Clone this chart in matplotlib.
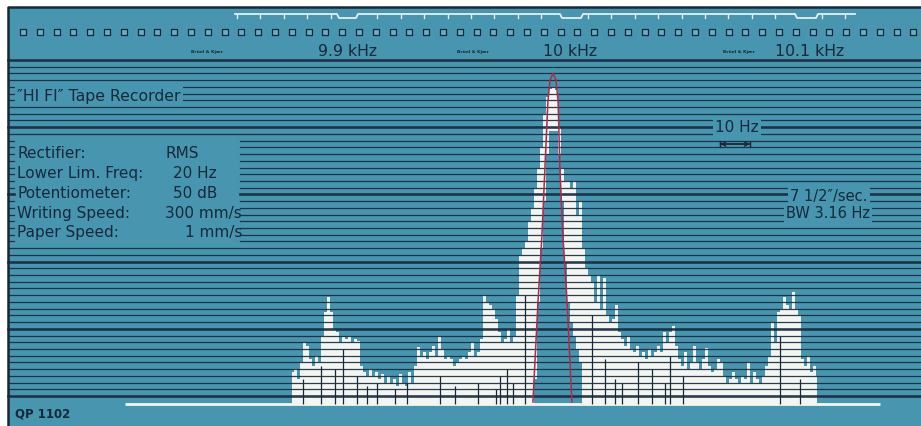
"""Narrow-band spectrum of a tape recorder tone, redrawn as a level recorder strip."""

import matplotlib
matplotlib.use("Agg")
import matplotlib.pyplot as plt
import numpy as np

W, H = 921, 427

PAPER = "#4795ae"
INK = "#17283b"
TRACE = "#f3f5f0"
RED = "#b2284c"

# --- data -------------------------------------------------------------------
F0 = 10000.0          # Hz, analysed tone
SPEC_START = -87      # Hz offset of the first 1 Hz bin
spec_db = [
    3.5, 4.0, 2.5, 5.0, 8.0, 7.5, 5.5, 4.5, 6.0, 5.0,
    9.0, 12.5, 14.7, 12.5, 10.0, 9.5, 8.0, 8.8, 8.5, 9.0,
    8.0, 8.5, 8.2, 4.5, 3.5, 3.0, 4.0, 3.0, 3.5, 2.5,
    3.2, 2.0, 3.0, 1.8, 2.5, 1.5, 3.2, 2.0, 1.5, 3.5,
    2.0, 4.5, 7.3, 6.0, 6.5, 5.5, 6.5, 7.5, 6.0, 9.0,
    7.0, 5.5, 6.0, 5.5, 4.5, 5.0, 5.5, 6.0, 5.5, 6.5,
    8.0, 6.0, 6.5, 8.5, 15.0, 14.0, 13.5, 13.0, 11.5, 9.5,
    8.0, 8.5, 10.0, 8.0, 9.0, 15.0, 21.0, 22.0, 23.0, 26.0,
    28.0, 31.0, 34.0, 37.0, 42.0, 44.5, 45.7, 46.0, 45.5, 40.0,
    34.0, 32.0, 32.0, 31.0, 32.0, 27.0, 29.0, 22.0, 19.0, 18.0,
    17.0, 14.0, 18.0, 13.0, 17.5, 12.0, 11.0, 11.5, 13.5, 9.5,
    8.5, 7.5, 9.0, 7.0, 6.5, 7.5, 6.0, 6.5, 5.5, 7.0,
    6.0, 6.5, 7.5, 6.5, 9.5, 8.0, 9.5, 10.4, 7.5, 5.5,
    4.5, 6.5, 4.0, 5.0, 7.4, 5.0, 4.0, 5.5, 7.2, 4.5,
    3.5, 4.0, 5.5, 5.0, 3.0, 2.0, 2.5, 3.5, 2.5, 2.0,
    3.0, 2.5, 5.0, 2.0, 3.5, 2.5, 1.8, 3.0, 4.5, 6.0,
    11.0, 8.0, 12.5, 13.0, 14.7, 13.5, 13.0, 15.5, 13.0, 12.0,
    5.5, 4.5, 6.0, 3.5, 4.5, 3.0,
]
# around the carrier the level never falls to the noise floor (hollow peak)
floor_df = [-6, -5, -4, -3, -2, -1, 0, 1, 2, 3, 4, 5, 6, 7, 8, 9]
floor_db = [2.5, 14, 22, 29, 36, 39.5, 39.5, 39.5, 36, 29, 20, 14, 11, 9, 7, 5]
# pen gaps reaching up from the baseline
gap_df = [-83.3, -77.3, -72.7, -70, -65.3, -62, -58.7, -52.7, -48.7, -37.7,
          -32.7, -25, -19, -17.7, -15.3, -13.3, -9.3, 13, 17.3, 20.7,
          23, 28.3, 33, 37.3, 39, 43.3, 75.7, 82.3]
gap_db = [2.5, 4.5, 4.0, 7.0, 3.0, 1.5, 2.0, 1.0, 2.0, 3.0,
          1.5, 2.0, 1.0, 3.0, 4.0, 2.0, 15.0, 12.0, 5.5, 2.5,
          2.0, 5.0, 4.0, 2.0, 6.0, 3.0, 9.0, 2.5]
# 3.16 Hz filter response, red
red_df = [-6.7, -5, -3.7, -2.7, -1.7, -1, 0, 1, 1.7, 2.3, 3.3, 4.7, 6.3]
red_db = [-0.9, 14, 23.8, 33.8, 43.8, 47, 48, 47, 43.8, 33.8, 23.8, 14, -0.9]
TRACE_START, TRACE_END = -142.7, 109.0   # white zero trace, Hz offsets
BASE = -1.2                              # dB, pen rest position

settings_names = ["Rectifier:", "Lower Lim. Freq:", "Potentiometer:",
                  "Writing Speed:", "Paper Speed:"]
settings_values = ["RMS", "20 Hz", "50 dB", "300 mm/s", "1 mm/s"]
freq_labels = ["9.9 kHz", "10 kHz", "10.1 kHz"]

# --- layout (pixels of the strip) ---------------------------------------------
PX_HZ = 3.0
X_CENTER = 553
Y_ZERO = 397
PX_DB = 6.72


def _px(x, y):
    """Pixel position on the strip -> axes fraction."""
    return np.asarray(x) / W, 1 - np.asarray(y) / H


def _draw_paper(ax):
    ax.add_patch(plt.Rectangle(_px(8, H), 1, (H - 8) / H, transform=ax.transAxes,
                               facecolor=PAPER, edgecolor="none", zorder=0))
    ax.plot(*_px([8, 8, W], [H, 8, 8]), transform=ax.transAxes,
            color=INK, lw=1.8, zorder=1)

    # dB rulings, 1 dB each, heavy every 10 dB
    for db in range(51):
        heavy = db % 10 == 0
        kw = dict(color=INK, lw=1.9 if heavy else 0.9, alpha=0.9, zorder=4)
        if 23 <= db <= 38:
            ax.axhline(db, 240 / W, 1, **kw)
            ax.axhline(db, 8 / W, 14 / W, **kw)
        else:
            ax.axhline(db, 8 / W, 1, **kw)

    # sprocket holes
    xs = 23 + 16.8 * np.arange(54)
    fx, fy = _px(xs, np.full(xs.shape, 33))
    ax.scatter(fx, fy, marker="s", s=20, facecolor="#6aaec3", edgecolor=INK,
               lw=0.9, transform=ax.transAxes, zorder=3)

    # frequency marker line with notches
    notches = [(337, 358), (560, 583), (795, 818)]
    px_x, px_y = [235], [15]
    for a, b in notches:
        px_x += [a, a + 2, b - 2, b]
        px_y += [15, 19, 19, 15]
    px_x.append(855)
    px_y.append(15)
    ax.plot(*_px(px_x, px_y), transform=ax.transAxes, color="#e6eeee",
            lw=1.3, zorder=3)
    for t in np.arange(237, 855, 23.4):
        if any(a - 3 < t < b + 3 for a, b in notches):
            continue
        ax.plot(*_px([t, t], [15, 18.5]), transform=ax.transAxes,
                color="#e6eeee", lw=1.0, zorder=3)

    for x, lab in zip([347, 570, 810], freq_labels):
        ax.text(*_px(x, 51), lab, transform=ax.transAxes, ha="center",
                va="center", fontsize=11.3, color=INK, zorder=6)
    for x in [207, 473, 739]:
        ax.text(*_px(x, 52), "Brüel & Kjær", transform=ax.transAxes,
                ha="center", va="center", fontsize=3.2, fontweight="bold",
                color=INK, zorder=6)

    ax.text(*_px(15, 414), "QP 1102", transform=ax.transAxes, ha="left",
            va="center", fontsize=8.5, fontweight="semibold", color=INK, zorder=6)


def _draw_notes(ax):
    box = dict(boxstyle="square,pad=0.15", facecolor=PAPER, edgecolor="none")
    ax.text(*_px(17, 96), "\u2033HI FI\u2033 Tape Recorder", transform=ax.transAxes,
            ha="left", va="center", fontsize=11.3, color=INK, bbox=box, zorder=6)

    rows_y = 154 + 19.7 * np.arange(len(settings_names))
    value_x = [165, 173, 173, 165, 185]
    for y, name, vx, val in zip(rows_y, settings_names, value_x, settings_values):
        ax.text(*_px(17, y), name, transform=ax.transAxes, ha="left",
                va="center", fontsize=11, color=INK, zorder=6)
        ax.text(*_px(vx, y), val, transform=ax.transAxes, ha="left",
                va="center", fontsize=11, color=INK, zorder=6)

    ax.text(*_px(737, 128), "10 Hz", transform=ax.transAxes, ha="center",
            va="center", fontsize=11, color=INK, bbox=box, zorder=6)
    for style in ("|-|,widthA=0.25,widthB=0.25", "<->,head_length=0.3,head_width=0.15"):
        ax.annotate("", xy=(F0 + 55.7, 37.5), xytext=(F0 + 65.7, 37.5),
                    arrowprops=dict(arrowstyle=style, color=INK, lw=1.0,
                                    shrinkA=0, shrinkB=0),
                    zorder=6)

    ax.text(*_px(790, 197), "7 1/2\u2033/sec.", transform=ax.transAxes,
            ha="left", va="center", fontsize=10.5, color=INK, bbox=box, zorder=6)
    ax.text(*_px(786, 214), "BW 3.16 Hz", transform=ax.transAxes,
            ha="left", va="center", fontsize=10.5, color=INK, bbox=box, zorder=6)


def _draw_trace(ax):
    freq = F0 + SPEC_START + np.arange(len(spec_db))
    lower = np.full(len(spec_db), BASE)
    for df, v in zip(floor_df, floor_db):
        lower[df - SPEC_START] = v
    ax.fill_between(freq, lower, spec_db, step="mid", color=TRACE, lw=0, zorder=2)
    ax.hlines(BASE, F0 + TRACE_START, F0 + TRACE_END, color=TRACE, lw=2, zorder=2)
    ax.vlines(F0 + np.array(gap_df), BASE, gap_db, color=INK, lw=0.9, zorder=3)
    ax.plot(F0 + np.array(red_df), red_db, color=RED, lw=1.1, zorder=5)


fig = plt.figure(figsize=(W / 100, H / 100), dpi=100, facecolor="white")
ax = fig.add_axes([0, 0, 1, 1])
ax.set_xlim(F0 - X_CENTER / PX_HZ, F0 + (W - X_CENTER) / PX_HZ)
ax.set_ylim(-(H - Y_ZERO) / PX_DB, Y_ZERO / PX_DB)
ax.axis("off")

_draw_paper(ax)
_draw_trace(ax)
_draw_notes(ax)

fig.savefig("out.png", dpi=100, facecolor="white")
